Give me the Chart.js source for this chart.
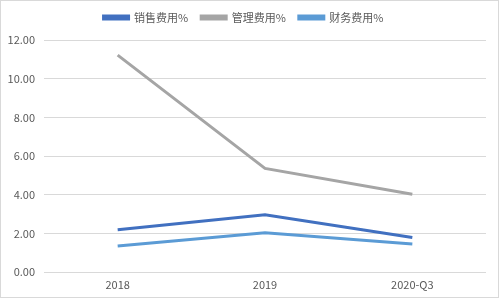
<!DOCTYPE html>
<html><head><meta charset="utf-8">
<script src="https://cdn.jsdelivr.net/npm/chart.js@4"></script>
<style>
html,body{margin:0;padding:0;background:#fff;}
#wrap{position:absolute;left:0;top:0;width:497px;height:296px;border:1px solid #d9d9d9;}
canvas{display:block;}
</style></head><body>
<div id="wrap"><canvas id="c" width="497" height="296"></canvas></div>
<script>
const categories = ["2018", "2019", "2020-Q3"];
const sales = [2.18, 2.96, 1.78];
const admin = [11.22, 5.36, 4.02];
const finance = [1.35, 2.03, 1.45];
const seriesNames = ["销售费用%", "管理费用%", "财务费用%"];
const yTicks = [0, 2, 4, 6, 8, 10, 12];

const font = "'Noto Sans CJK SC', 'Noto Sans', sans-serif";
const legendSpace = {
  id: 'legendSpace',
  beforeUpdate(chart) {
    const lg = chart.legend;
    if (lg && !lg._patched) {
      const orig = lg.fit;
      lg.fit = function() { orig.call(this); this.height += 7; };
      lg._patched = true;
    }
  }
};
new Chart(document.getElementById('c'), {
  type: 'line',
  data: {
    labels: categories,
    datasets: [
      {label: seriesNames[0], data: sales, borderColor: '#4170C0', backgroundColor: '#4170C0', borderWidth: 3, pointRadius: 0, tension: 0},
      {label: seriesNames[1], data: admin, borderColor: '#A5A5A5', backgroundColor: '#A5A5A5', borderWidth: 3, pointRadius: 0, tension: 0},
      {label: seriesNames[2], data: finance, borderColor: '#5B9BD5', backgroundColor: '#5B9BD5', borderWidth: 3, pointRadius: 0, tension: 0}
    ]
  },
  plugins: [legendSpace],
  options: {
    responsive: false,
    animation: false,
    layout: {padding: {left: 0, right: 12, top: -2, bottom: 0}},
    plugins: {
      legend: {
        position: 'top',
        labels: {boxWidth: 25, boxHeight: 3, color: '#595959', font: {family: font, size: 11}, padding: 13}
      },
      tooltip: {enabled: false}
    },
    scales: {
      x: {
        offset: true,
        grid: {display: false, drawTicks: false},
        border: {display: false},
        ticks: {color: '#595959', font: {family: font, size: 11}, padding: 6},
        afterFit: s => { s.height = 25; }
      },
      y: {
        min: 0, max: 12,
        afterBuildTicks: s => { s.ticks = yTicks.map(v => ({value: v})); },
        grid: {color: '#d9d9d9', drawTicks: false},
        border: {display: false},
        ticks: {color: '#595959', font: {family: font, size: 11}, padding: 9, callback: v => Number(v).toFixed(2)},
        afterFit: s => { s.width = 43; }
      }
    }
  }
});
</script>
</body></html>
